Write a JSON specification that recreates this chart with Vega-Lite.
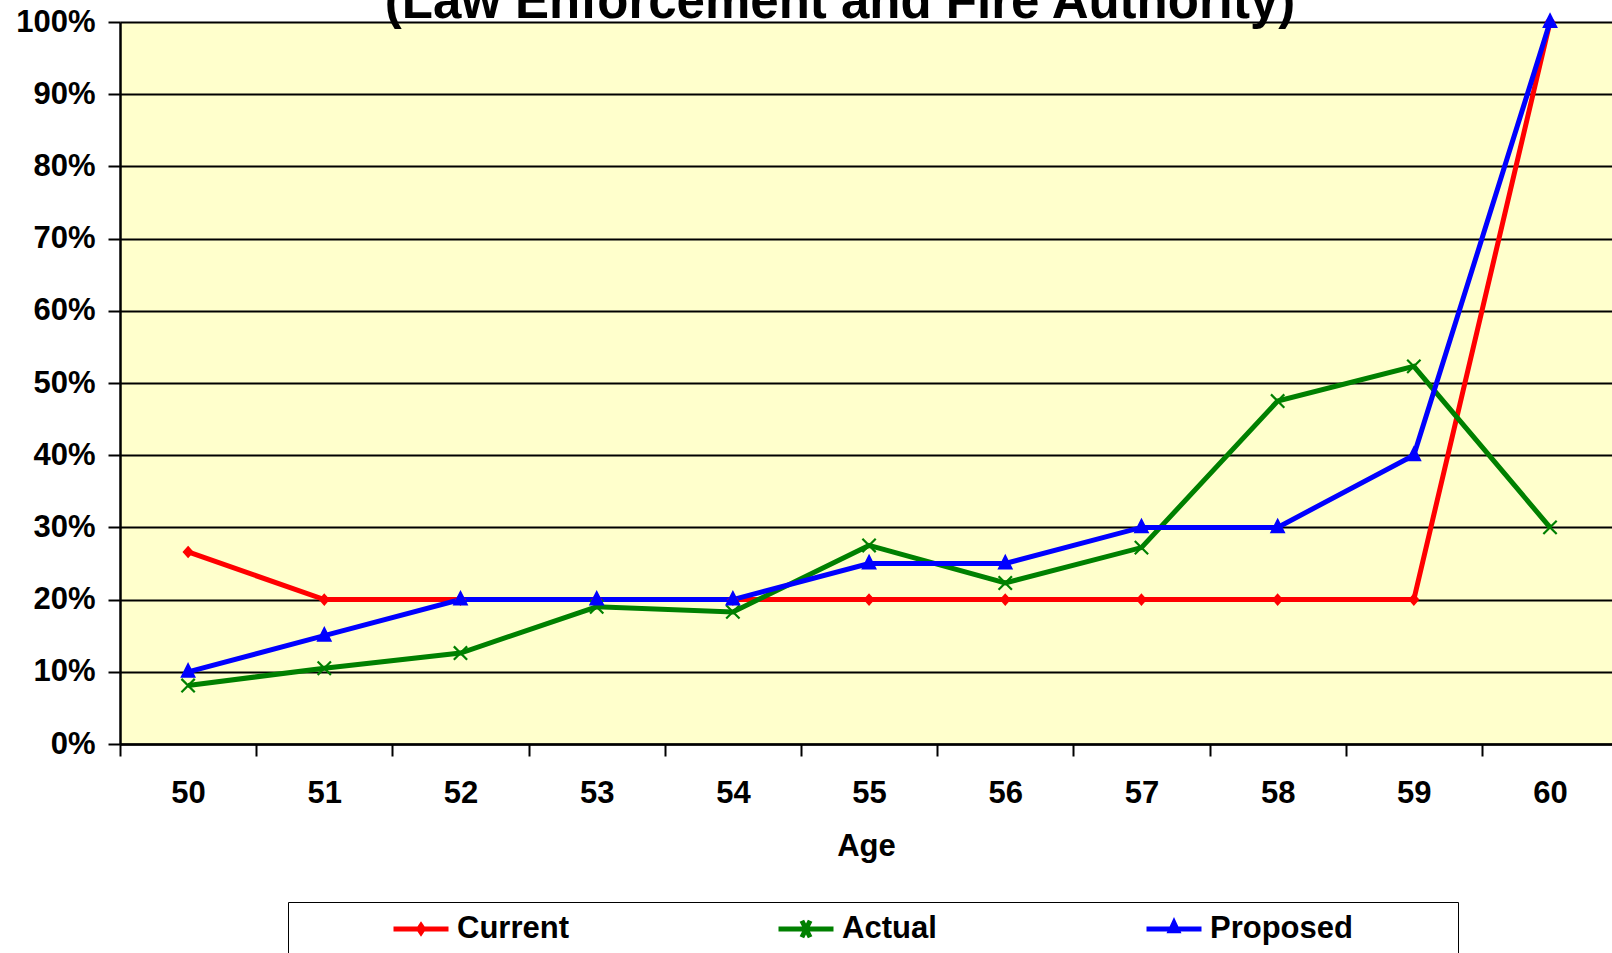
{
  "$schema": "https://vega.github.io/schema/vega-lite/v6.json",
  "width": 1492,
  "height": 722,
  "autosize": {"type": "none"},
  "padding": {"left": 120, "top": 22, "right": 0, "bottom": 209},
  "background": "white",
  "title": {
    "text": "(Law Enforcement and Fire Authority)",
    "font": "Liberation Sans",
    "fontSize": 51,
    "fontWeight": "bold",
    "color": "black",
    "anchor": "middle",
    "dx": -26,
    "baseline": "alphabetic",
    "offset": -63
  },
  "data": {
    "values": [
      {"age": 50, "series": "Current", "value": 0.266},
      {"age": 51, "series": "Current", "value": 0.2},
      {"age": 52, "series": "Current", "value": 0.2},
      {"age": 53, "series": "Current", "value": 0.2},
      {"age": 54, "series": "Current", "value": 0.2},
      {"age": 55, "series": "Current", "value": 0.2},
      {"age": 56, "series": "Current", "value": 0.2},
      {"age": 57, "series": "Current", "value": 0.2},
      {"age": 58, "series": "Current", "value": 0.2},
      {"age": 59, "series": "Current", "value": 0.2},
      {"age": 60, "series": "Current", "value": 1.0},
      {"age": 50, "series": "Actual", "value": 0.081},
      {"age": 51, "series": "Actual", "value": 0.105},
      {"age": 52, "series": "Actual", "value": 0.126},
      {"age": 53, "series": "Actual", "value": 0.19},
      {"age": 54, "series": "Actual", "value": 0.183},
      {"age": 55, "series": "Actual", "value": 0.275},
      {"age": 56, "series": "Actual", "value": 0.223},
      {"age": 57, "series": "Actual", "value": 0.272},
      {"age": 58, "series": "Actual", "value": 0.475},
      {"age": 59, "series": "Actual", "value": 0.523},
      {"age": 60, "series": "Actual", "value": 0.3},
      {"age": 50, "series": "Proposed", "value": 0.1},
      {"age": 51, "series": "Proposed", "value": 0.15},
      {"age": 52, "series": "Proposed", "value": 0.2},
      {"age": 53, "series": "Proposed", "value": 0.2},
      {"age": 54, "series": "Proposed", "value": 0.2},
      {"age": 55, "series": "Proposed", "value": 0.25},
      {"age": 56, "series": "Proposed", "value": 0.25},
      {"age": 57, "series": "Proposed", "value": 0.3},
      {"age": 58, "series": "Proposed", "value": 0.3},
      {"age": 59, "series": "Proposed", "value": 0.4},
      {"age": 60, "series": "Proposed", "value": 1.0}
    ]
  },
  "encoding": {
    "x": {
      "field": "age",
      "type": "quantitative",
      "scale": {"domain": [49.5, 60.455], "nice": false, "zero": false},
      "axis": {
        "values": [49.5, 50.5, 51.5, 52.5, 53.5, 54.5, 55.5, 56.5, 57.5, 58.5, 59.5],
        "labelExpr": "format(datum.value + 0.5, 'd')",
        "labelOffset": 68.1,
        "labelFlush": false,
        "labelOverlap": false,
        "labelPadding": 22,
        "tickSize": 12,
        "grid": false,
        "title": "Age",
        "titlePadding": 23
      }
    },
    "y": {
      "field": "value",
      "type": "quantitative",
      "scale": {"domain": [0, 1], "nice": false},
      "axis": {
        "values": [0, 0.1, 0.2, 0.3, 0.4, 0.5, 0.6, 0.7, 0.8, 0.9, 1.0],
        "format": ".0%",
        "tickSize": 12,
        "labelPadding": 13,
        "grid": true,
        "title": null
      }
    }
  },
  "layer": [
    {
      "mark": {"type": "line", "strokeWidth": 5, "clip": true},
      "encoding": {
        "stroke": {
          "field": "series",
          "type": "nominal",
          "scale": {"range": ["#008000", "#FF0000", "#0000FF"]},
          "legend": null
        }
      }
    },
    {
      "transform": [{"filter": "datum.series == 'Current'"}],
      "mark": {"type": "point", "filled": true, "size": 529, "opacity": 1, "strokeWidth": 1.5, "fill": "#FF0000", "stroke": "#FF0000", "shape": "M0,-0.45L0.4,0L0,0.45L-0.4,0Z"}
    },
    {
      "transform": [{"filter": "datum.series == 'Actual'"}],
      "mark": {"type": "point", "filled": false, "size": 529, "opacity": 1, "strokeWidth": 2.2, "stroke": "#008000", "shape": "M-0.58,-0.58L0.58,0.58M-0.58,0.58L0.58,-0.58"}
    },
    {
      "transform": [{"filter": "datum.series == 'Proposed'"}],
      "mark": {"type": "point", "filled": true, "size": 529, "opacity": 1, "strokeWidth": 1.5, "fill": "#0000FF", "stroke": "#0000FF", "shape": "M0,-0.7L0.58,0.45L-0.58,0.45Z"}
    },
    {
      "transform": [{"filter": "datum.age < 0"}],
      "mark": {"type": "point", "filled": false, "size": 3025, "opacity": 1, "strokeWidth": 5},
      "encoding": {
        "color": {
          "field": "series",
          "type": "nominal",
          "scale": {"domain": ["Current", "Actual", "Proposed"], "range": ["#FF0000", "#008000", "#0000FF"]},
          "legend": {
            "orient": "none",
            "legendX": 168,
            "legendY": 880,
            "direction": "horizontal",
            "columns": 3,
            "columnPadding": 207,
            "padding": 10,
            "clipHeight": 34,
            "strokeColor": "black",
            "fillColor": "white",
            "title": "\u00a0",
            "titleOrient": "left",
            "titleFontSize": 30,
            "titlePadding": 93,
            "symbolSize": 3025,
            "symbolStrokeWidth": 5,
            "symbolOpacity": 1,
            "labelFont": "Liberation Sans",
            "labelFontSize": 31,
            "labelFontWeight": "bold",
            "labelColor": "black",
            "labelOffset": 6,
            "labelLimit": 500,
            "labelExpr": "datum.label == 'Proposed' ? 'Proposed\u00a0\u00a0\u00a0\u00a0\u00a0\u00a0\u00a0\u00a0\u00a0\u00a0\u00a0\u200b' : datum.label"
          }
        },
        "shape": {
          "field": "series",
          "type": "nominal",
          "scale": {
            "domain": ["Current", "Actual", "Proposed"],
            "range": [
              "M-1,0H1M0,-0.12L0.08,0L0,0.12L-0.08,0Z",
              "M-1,0H1M-0.15,-0.3L0.15,0.3M-0.15,0.3L0.15,-0.3",
              "M-1,0H1M0,-0.22L0.13,0.06L-0.13,0.06Z"
            ]
          },
          "legend": {
            "orient": "none",
            "legendX": 168,
            "legendY": 880,
            "direction": "horizontal",
            "columns": 3,
            "columnPadding": 207,
            "padding": 10,
            "clipHeight": 34,
            "strokeColor": "black",
            "fillColor": "white",
            "title": "\u00a0",
            "titleOrient": "left",
            "titleFontSize": 30,
            "titlePadding": 93,
            "symbolSize": 3025,
            "symbolStrokeWidth": 5,
            "symbolOpacity": 1,
            "labelFont": "Liberation Sans",
            "labelFontSize": 31,
            "labelFontWeight": "bold",
            "labelColor": "black",
            "labelOffset": 6,
            "labelLimit": 500,
            "labelExpr": "datum.label == 'Proposed' ? 'Proposed\u00a0\u00a0\u00a0\u00a0\u00a0\u00a0\u00a0\u00a0\u00a0\u00a0\u00a0\u200b' : datum.label"
          }
        }
      }
    }
  ],
  "config": {
    "font": "Liberation Sans",
    "view": {"fill": "#FFFFCC", "stroke": null},
    "axis": {
      "domainColor": "black",
      "domainWidth": 2.5,
      "tickColor": "black",
      "tickWidth": 2,
      "gridColor": "black",
      "gridWidth": 2,
      "gridOpacity": 1,
      "labelFont": "Liberation Sans",
      "labelFontSize": 31,
      "labelFontWeight": "bold",
      "labelColor": "black",
      "titleFont": "Liberation Sans",
      "titleFontSize": 31,
      "titleFontWeight": "bold",
      "titleColor": "black"
    }
  }
}
